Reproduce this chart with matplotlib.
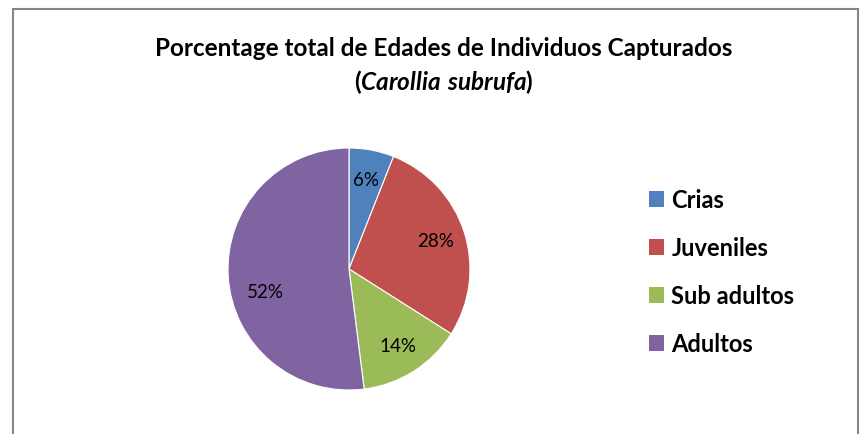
import matplotlib.pyplot as plt
from matplotlib.patches import Rectangle, Patch

# Data
labels = ['Crias', 'Juveniles', 'Sub adultos', 'Adultos']
values = [6, 28, 14, 52]
colors = ['#4F81BD', '#C0504D', '#9BBB59', '#8064A2']

plt.rcParams['font.family'] = ['Lato', 'DejaVu Sans']
plt.rcParams['mathtext.fontset'] = 'custom'
plt.rcParams['mathtext.bfit'] = 'Lato:italic:bold'

fig = plt.figure(figsize=(8.67, 4.35), dpi=100)
W, H = 867, 435

# chart border
fig.patches.append(Rectangle((13 / W, -0.05), (858 - 13) / W, 1.05 - 10 / H,
                             transform=fig.transFigure, fill=False,
                             edgecolor='#878787', linewidth=1.5))

# title
fig.text(444 / W, 1 - 48 / H, 'Porcentage total de Edades de Individuos Capturados',
         ha='center', va='center', fontsize=17.5, fontweight='bold')
fig.text(444 / W, 1 - 82 / H, r'($\mathbfit{Carollia\ subrufa}$)',
         ha='center', va='center', fontsize=17.5, fontweight='bold')

# pie
ax = fig.add_axes([228 / W, 44 / H, 242 / W, 242 / H])
wedges, texts, autotexts = ax.pie(values, colors=colors, startangle=90, counterclock=False,
                                  autopct='%d%%', pctdistance=0.75,
                                  wedgeprops=dict(edgecolor='white', linewidth=0.8),
                                  textprops=dict(fontsize=13.5))
# Excel nudges the big slice label a bit lower
x, y = autotexts[3].get_position()
autotexts[3].set_position((x + 0.06, y - 0.14))
ax.set_xlim(-1, 1)
ax.set_ylim(-1, 1)
ax.set_aspect('equal')

handles = [Patch(facecolor=c, edgecolor='none') for c in colors]
fig.legend(handles, labels, loc='upper left', bbox_to_anchor=(628 / W, 1 - 168 / H),
           frameon=False, handlelength=0.64, handleheight=0.64, handletextpad=0.3,
           labelspacing=1.06, prop=dict(size=17, weight='bold'))

fig.savefig('out.png', dpi=100)
